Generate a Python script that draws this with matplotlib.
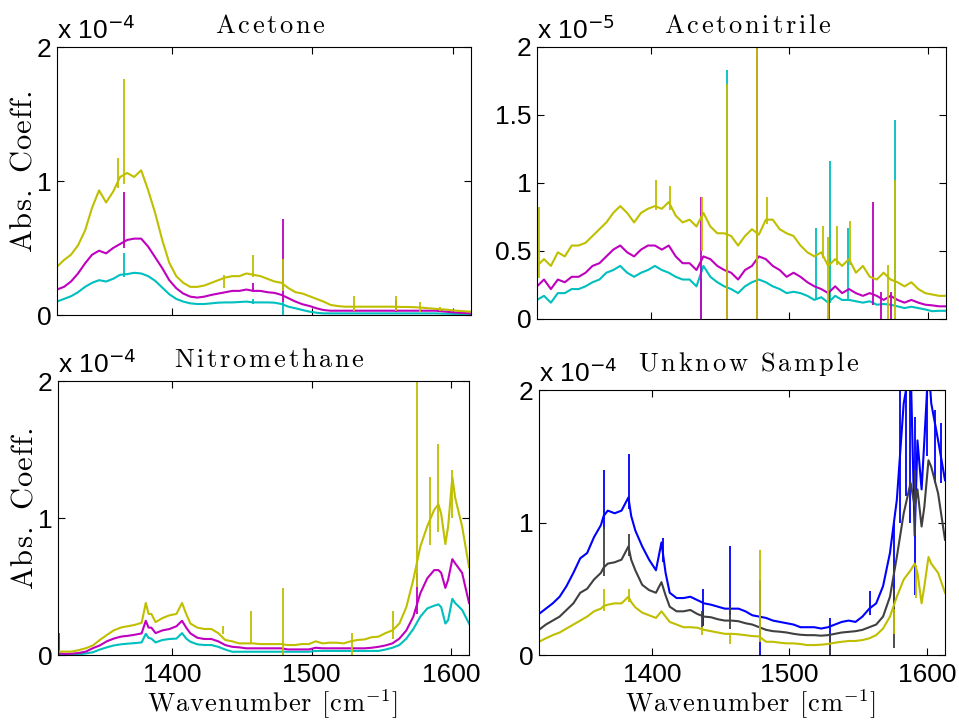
import matplotlib.pyplot as plt
from matplotlib.ticker import FuncFormatter

plt.rcParams['font.family'] = ['Liberation Sans', 'DejaVu Sans']

# wavenumber samples [cm^-1]
wn_top = [1318, 1323, 1328, 1333, 1338, 1343, 1348, 1353, 1358, 1363,
          1368, 1373, 1378, 1383, 1388, 1393, 1398, 1403, 1408, 1413,
          1418, 1423, 1428, 1433, 1438, 1443, 1448, 1453, 1458, 1463,
          1468, 1473, 1478, 1483, 1488, 1493, 1498, 1503, 1508, 1513,
          1518, 1523, 1528, 1533, 1538, 1543, 1548, 1553, 1558, 1563,
          1568, 1573, 1578, 1583, 1588, 1593, 1598, 1603, 1608, 1613]

wn_bottom = [1318, 1323, 1328, 1333, 1338, 1343, 1348, 1353, 1358, 1363,
             1365, 1368, 1373, 1378, 1381, 1383, 1385, 1388, 1393, 1398,
             1403, 1407, 1410, 1413, 1418, 1423, 1428, 1433, 1438, 1443,
             1448, 1453, 1458, 1463, 1468, 1473, 1478, 1483, 1488, 1493,
             1498, 1503, 1508, 1513, 1518, 1523, 1528, 1533, 1538, 1543,
             1548, 1553, 1558, 1563, 1568, 1573, 1578, 1583, 1588, 1591,
             1593, 1596, 1598, 1601, 1603, 1608, 1613]

# Acetone, units of 1e-4
acetone_cyan = [.10, .12, .14, .17, .21, .24, .26, .25, .27, .30,
                .305, .315, .31, .29, .255, .205, .155, .12, .10, .087,
                .082, .082, .087, .092, .094, .094, .097, .10, .094, .094,
                .094, .092, .082, .062, .05, .037, .025, .017, .012, .012,
                .012, .012, .012, .012, .012, .012, .012, .012, .012, .012,
                .012, .012, .012, .012, .012, .010, .009, .008, .006, .005]
acetone_magenta = [.19, .21, .25, .31, .385, .45, .48, .46, .50, .53,
                   .56, .57, .57, .51, .43, .35, .26, .20, .16, .137,
                   .13, .137, .15, .16, .17, .18, .18, .19, .18, .18,
                   .17, .165, .15, .125, .10, .08, .067, .05, .037, .032,
                   .032, .032, .032, .032, .032, .032, .032, .032, .032, .032,
                   .032, .032, .032, .032, .032, .027, .022, .018, .015, .012]
acetone_yellow = [.36, .41, .45, .52, .63, .80, .93, .84, .92, 1.03,
                  1.06, 1.03, 1.08, .93, .76, .56, .39, .29, .24, .21,
                  .21, .22, .24, .26, .28, .29, .29, .31, .30, .29,
                  .27, .25, .24, .20, .17, .16, .14, .12, .10, .075,
                  .067, .062, .062, .062, .062, .062, .062, .062, .062, .06,
                  .06, .058, .055, .05, .046, .042, .037, .032, .028, .025]
# spikes: (wavenumber, low, high)
acetone_cyan_spikes = [(1365.7, .28, .46), (1457.6, .08, .12), (1478.9, 0.0, .10)]
acetone_magenta_spikes = [(1365.7, .50, .92), (1457.6, .17, .24), (1478.9, .10, .72),
                          (1559.8, .02, .11)]
acetone_yellow_spikes = [(1361.5, .95, 1.17), (1365.7, .98, 1.76), (1436.8, .20, .30),
                         (1457.6, .28, .45), (1478.9, .18, .42), (1529.5, .03, .14),
                         (1559.8, .03, .14), (1576.6, .02, .10), (1591.0, .03, .06)]

# Acetonitrile, units of 1e-5
acn_cyan = [.14, .17, .12, .19, .19, .22, .22, .24, .27, .29,
            .34, .36, .39, .34, .31, .34, .36, .39, .36, .34,
            .31, .29, .29, .24, .39, .31, .27, .24, .22, .19,
            .24, .27, .29, .27, .24, .22, .19, .20, .19, .17,
            .14, .16, .12, .17, .14, .14, .13, .12, .13, .105,
            .11, .105, .093, .08, .09, .08, .07, .057, .06, .06]
acn_magenta = [.24, .29, .22, .29, .27, .31, .31, .34, .39, .41,
               .46, .51, .54, .49, .46, .51, .54, .54, .51, .54,
               .46, .41, .41, .36, .46, .44, .39, .36, .34, .29,
               .36, .39, .46, .44, .39, .36, .31, .34, .31, .27,
               .24, .22, .19, .24, .19, .22, .19, .17, .19, .17,
               .14, .17, .14, .12, .14, .12, .105, .10, .093, .093]
acn_yellow = [.39, .44, .39, .49, .46, .54, .54, .56, .61, .66,
              .71, .78, .83, .78, .71, .78, .81, .83, .81, .86,
              .76, .71, .73, .68, .78, .68, .63, .63, .61, .54,
              .61, .66, .62, .73, .73, .66, .63, .61, .54, .49,
              .46, .49, .39, .44, .39, .44, .34, .39, .31, .29,
              .34, .29, .27, .24, .27, .22, .19, .18, .17, .17]
acn_cyan_spikes = [(1436.4, 0.0, .30), (1455.0, .22, 1.83), (1519.3, .14, .67),
                   (1529.6, .12, 1.16), (1542.4, .14, .67), (1576.2, .10, 1.46)]
acn_magenta_spikes = [(1436.6, 0.0, .90), (1455.0, 0.0, .40), (1476.8, 0.0, 2.1),
                      (1528.7, 0.0, .20), (1560.3, .10, .86), (1566.0, 0.0, .20),
                      (1573.0, 0.0, .20)]
acn_yellow_spikes = [(1319.5, .30, .82), (1403.5, .80, 1.02), (1414.0, .80, .98),
                     (1436.8, .50, .90), (1455.2, 0.0, 1.73), (1476.7, 0.0, 2.1),
                     (1483.5, .70, .90), (1524.0, .45, .68), (1528.0, 0.0, .60),
                     (1534.0, .40, .68), (1544.0, .40, .72), (1571.0, 0.0, .40),
                     (1576.0, 0.0, 1.02)]

# Nitromethane, units of 1e-4
nitro_cyan = [0.0, 0.0, .002, .005, .012, .02, .04, .056, .07, .078,
              .08, .083, .087, .092, .155, .125, .12, .092, .11, .117,
              .12, .16, .12, .097, .078, .073, .073, .06, .04, .024,
              .024, .024, .024, .024, .024, .024, .024, .024, .024, .024,
              .024, .03, .03, .03, .03, .03, .03, .03, .03, .03,
              .03, .04, .053, .073, .12, .19, .28, .34, .36, .37,
              .35, .23, .255, .41, .38, .33, .23]
nitro_magenta = [.012, .008, .01, .015, .025, .05, .07, .10, .12, .134,
                 .137, .14, .148, .158, .25, .20, .20, .16, .18, .19,
                 .21, .25, .20, .158, .126, .117, .117, .10, .073, .06,
                 .056, .049, .049, .049, .049, .049, .049, .041, .041, .041,
                 .041, .053, .049, .049, .049, .049, .049, .049, .049, .053,
                 .06, .07, .085, .12, .18, .28, .45, .56, .62, .62,
                 .60, .49, .55, .70, .67, .60, .38]
nitro_yellow = [.025, .025, .025, .036, .05, .07, .11, .146, .18, .20,
                .205, .21, .22, .235, .38, .30, .30, .24, .27, .29,
                .30, .38, .30, .23, .20, .19, .19, .16, .11, .10,
                .085, .085, .085, .08, .08, .08, .08, .073, .073, .08,
                .08, .10, .085, .09, .09, .085, .10, .11, .114, .13,
                .134, .16, .18, .23, .35, .55, .79, .94, 1.06, 1.10,
                1.03, .81, .94, 1.30, 1.15, .94, .64]
nitro_cyan_spikes = [(1479.3, 0.0, .03)]
nitro_magenta_spikes = [(1318.5, 0.0, .16), (1576.0, .30, .60)]
nitro_yellow_spikes = [(1436.5, .15, .21), (1456.6, .08, .32), (1479.3, 0.0, .49),
                       (1529.0, 0.0, .16), (1558.6, .12, .32), (1576.0, .50, 2.1),
                       (1585.0, .80, 1.30), (1590.5, .90, 1.54), (1600.5, 1.0, 1.35)]

# Unknown sample, units of 1e-4
unk_blue = [.31, .35, .39, .44, .52, .62, .73, .77, .89, .98,
            1.05, 1.09, 1.07, 1.09, 1.15, 1.19, 1.05, .94, .82, .72,
            .64, .85, .62, .47, .43, .43, .44, .415, .39, .38,
            .365, .35, .35, .35, .33, .30, .29, .28, .26, .25,
            .24, .23, .21, .21, .21, .20, .21, .23, .25, .26,
            .25, .29, .35, .39, .52, .77, 1.17, 1.90, 2.20, .90,
            1.62, 1.25, 1.62, 2.20, 1.90, 1.62, 1.32]
unk_gray = [.19, .23, .26, .29, .34, .39, .47, .50, .57, .62,
            .66, .69, .70, .72, .78, .82, .72, .64, .53, .49,
            .47, .55, .45, .365, .33, .33, .34, .31, .29, .285,
            .27, .26, .26, .255, .24, .23, .21, .19, .18, .176,
            .17, .16, .153, .15, .15, .146, .15, .16, .17, .175,
            .18, .19, .21, .23, .29, .44, .74, 1.07, 1.30, 1.12,
            1.25, .97, 1.12, 1.47, 1.42, 1.22, .87]
unk_yellow = [.10, .126, .15, .17, .20, .23, .26, .29, .33, .35,
              .37, .38, .39, .39, .42, .44, .40, .36, .32, .30,
              .28, .33, .29, .25, .23, .21, .21, .206, .19, .18,
              .17, .16, .16, .156, .15, .143, .14, .10, .10, .093,
              .088, .088, .083, .075, .075, .078, .083, .093, .10, .106,
              .106, .113, .126, .15, .20, .29, .44, .57, .64, .69,
              .62, .39, .52, .74, .69, .62, .47]
unk_blue_spikes = [(1365.0, .95, 1.40), (1383.4, 1.10, 1.52), (1408.0, .70, .88),
                   (1437.0, .22, .50), (1456.5, .30, .82), (1478.5, 0.0, .57),
                   (1529.5, 0.0, .28), (1558.3, .30, .48), (1576.3, .20, 1.0),
                   (1580.0, 1.0, 2.2), (1585.0, 1.2, 2.2), (1587.5, 1.0, 2.2),
                   (1591.0, .45, 1.8), (1599.7, 1.5, 2.2), (1606.0, 1.3, 1.85),
                   (1610.0, 1.3, 1.75)]
unk_gray_spikes = [(1365.0, .60, .97), (1383.4, .75, .91), (1436.8, .20, .33),
                   (1456.5, .20, .36), (1529.5, 0.0, .16), (1576.3, .05, .50),
                   (1591.5, .90, 1.40)]
unk_yellow_spikes = [(1365.0, .33, .50), (1383.4, .40, .50), (1436.8, .15, .21),
                     (1456.5, .08, .17), (1478.5, .10, .79), (1576.3, .16, .35),
                     (1592.0, .43, .68)]

CYAN, MAGENTA, YELLOW = '#00BFBF', '#BF00BF', '#BFBF00'
BLUE, GRAY = '#0000FF', '#404040'


def spaced(s, gap):
    # LaTeX-looking label with a little letter spacing, like the MATLAB render
    parts = [r'\ ' if ch == ' ' else r'\mathrm{%s}' % ch for ch in s]
    return (r'\hspace{%g}' % gap).join(parts)


fig = plt.figure(figsize=(9.59, 7.21), dpi=100)


def panel(rect, wn, series, title, yticks, exponent, xlabels, title_pad=10):
    ax = fig.add_axes(rect)
    for vals, spikes, color in series:
        ax.plot(wn, vals, color=color, lw=1.5)
        ax.vlines([s[0] for s in spikes], [s[1] for s in spikes],
                  [s[2] for s in spikes], color=color, lw=1.3)
    ax.set_xlim(1318, 1613)
    ax.set_ylim(0, 2)
    ax.set_xticks([1400, 1500, 1600])
    ax.set_yticks(yticks)
    ax.yaxis.set_major_formatter(FuncFormatter(lambda v, p: '%g' % v))
    ax.tick_params(direction='in', top=True, right=True, length=5, width=0.8,
                   labelsize=19, pad=4)
    ax.tick_params(axis='x', pad=6)
    if not xlabels:
        ax.tick_params(labelbottom=False)
    for sp in ax.spines.values():
        sp.set_linewidth(0.8)
    ax.set_title('$' + spaced(title, 0.12) + '$', fontsize=19,
                 math_fontfamily='cm', pad=title_pad)
    ax.title.set_x(0.515)
    ax.text(0.0, 1.01, 'x 10$^{%s}$' % exponent, transform=ax.transAxes,
            ha='left', va='bottom', fontsize=19, math_fontfamily='dejavusans')
    return ax


ax1 = panel([0.0594, 0.5631, 0.4317, 0.3717], wn_top,
            [(acetone_cyan, acetone_cyan_spikes, CYAN),
             (acetone_magenta, acetone_magenta_spikes, MAGENTA),
             (acetone_yellow, acetone_yellow_spikes, YELLOW)],
            'Acetone', [0, 1, 2], '-4', False)
ax2 = panel([0.5600, 0.5576, 0.4265, 0.3773], wn_top,
            [(acn_cyan, acn_cyan_spikes, CYAN),
             (acn_magenta, acn_magenta_spikes, MAGENTA),
             (acn_yellow, acn_yellow_spikes, YELLOW)],
            'Acetonitrile', [0, 0.5, 1, 1.5, 2], '-5', False)
ax3 = panel([0.0605, 0.0915, 0.4286, 0.3800], wn_bottom,
            [(nitro_cyan, nitro_cyan_spikes, CYAN),
             (nitro_magenta, nitro_magenta_spikes, MAGENTA),
             (nitro_yellow, nitro_yellow_spikes, YELLOW)],
            'Nitromethane', [0, 1, 2], '-4', True)
ax4 = panel([0.5620, 0.0915, 0.4234, 0.3675], wn_bottom,
            [(unk_blue, unk_blue_spikes, BLUE),
             (unk_gray, unk_gray_spikes, GRAY),
             (unk_yellow, unk_yellow_spikes, YELLOW)],
            'Unknow Sample', [0, 1, 2], '-4', True, title_pad=14)

for ax in (ax1, ax3):
    ax.set_ylabel('$' + spaced('Abs. Coeff.', 0.04) + '$', fontsize=22,
                  math_fontfamily='cm')
    ax.yaxis.set_label_coords(-0.045, 0.535)
xlab = '$' + spaced('Wavenumber [cm', 0.05) + r'^{-1}]$'
for ax, ly in ((ax3, -0.118), (ax4, -0.122)):
    ax.set_xlabel(xlab, fontsize=19, math_fontfamily='cm')
    ax.xaxis.set_label_coords(0.52, ly)

fig.savefig('out.png', dpi=100)
